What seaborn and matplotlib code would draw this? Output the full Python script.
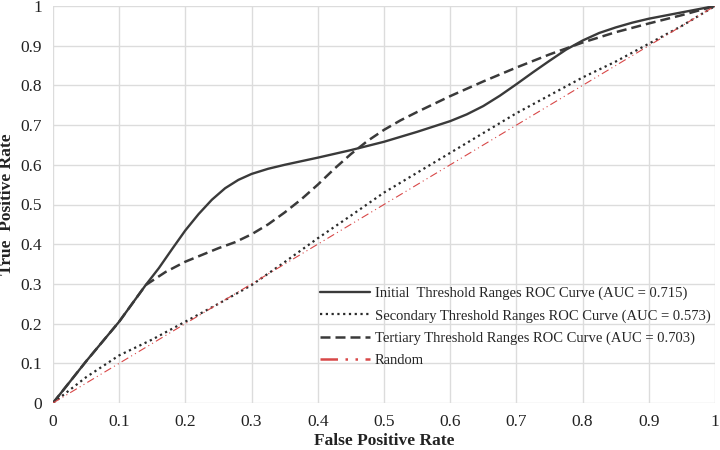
import matplotlib
matplotlib.use("Agg")
import matplotlib.pyplot as plt
import seaborn as sns
import pandas as pd
from matplotlib.ticker import FuncFormatter

fpr_initial = [0.0, 0.05, 0.1, 0.14, 0.16, 0.18, 0.2, 0.22, 0.24, 0.26, 0.28, 0.3,
               0.325, 0.35, 0.4, 0.45, 0.5, 0.55, 0.6, 0.625, 0.65, 0.675, 0.7,
               0.725, 0.75, 0.775, 0.8, 0.825, 0.85, 0.875, 0.9, 0.95, 1.0]
tpr_initial = [0.0, 0.105, 0.205, 0.297, 0.34, 0.388, 0.435, 0.476, 0.512, 0.541, 0.562, 0.577,
               0.590, 0.600, 0.618, 0.637, 0.658, 0.683, 0.710, 0.727, 0.748, 0.774, 0.803,
               0.833, 0.862, 0.89, 0.913, 0.932, 0.946, 0.958, 0.968, 0.984, 1.0]

fpr_secondary = [0.0, 0.05, 0.1, 0.15, 0.2, 0.25, 0.3, 0.35, 0.4, 0.45, 0.5,
                 0.55, 0.6, 0.65, 0.7, 0.75, 0.8, 0.85, 0.9, 0.95, 1.0]
tpr_secondary = [0.0, 0.065, 0.12, 0.16, 0.205, 0.25, 0.297, 0.355, 0.415, 0.472, 0.53,
                 0.58, 0.63, 0.68, 0.73, 0.775, 0.82, 0.86, 0.905, 0.95, 1.0]

fpr_tertiary = [0.0, 0.05, 0.1, 0.14, 0.17, 0.2, 0.25, 0.275, 0.3, 0.325, 0.35, 0.375,
                0.4, 0.425, 0.45, 0.475, 0.5, 0.525, 0.55, 0.6, 0.65, 0.7, 0.75,
                0.8, 0.85, 0.9, 0.95, 1.0]
tpr_tertiary = [0.0, 0.105, 0.205, 0.297, 0.33, 0.356, 0.39, 0.405, 0.425, 0.45, 0.48, 0.513,
                0.55, 0.59, 0.627, 0.66, 0.688, 0.712, 0.733, 0.773, 0.81, 0.845, 0.878,
                0.908, 0.934, 0.956, 0.977, 1.0]

random_x = [0.0, 1.0]
random_y = [0.0, 1.0]

labels = ["Initial  Threshold Ranges ROC Curve (AUC = 0.715)",
          "Secondary Threshold Ranges ROC Curve (AUC = 0.573)",
          "Tertiary Threshold Ranges ROC Curve (AUC = 0.703)",
          "Random"]
ticks = [0, 0.1, 0.2, 0.3, 0.4, 0.5, 0.6, 0.7, 0.8, 0.9, 1]

sns.set_style("white")
plt.rcParams["font.family"] = ["Liberation Serif", "DejaVu Serif"]

fig = plt.figure(figsize=(7.2, 4.5), dpi=100)
ax = fig.add_axes([53/720, 1-403/450, 662/720, 397/450])

df_i = pd.DataFrame({"x": fpr_initial, "y": tpr_initial})
df_s = pd.DataFrame({"x": fpr_secondary, "y": tpr_secondary})
df_t = pd.DataFrame({"x": fpr_tertiary, "y": tpr_tertiary})
df_r = pd.DataFrame({"x": random_x, "y": random_y})

sns.lineplot(data=df_i, x="x", y="y", ax=ax, color="#3a3a3a", lw=1.7,
             label=labels[0], sort=False)
sns.lineplot(data=df_s, x="x", y="y", ax=ax, color="#2a2a2a", lw=1.6,
             linestyle=(0, (1, 1.6)), label=labels[1], sort=False)
sns.lineplot(data=df_t, x="x", y="y", ax=ax, color="#3a3a3a", lw=1.8,
             linestyle=(0, (4, 2)), label=labels[2], sort=False)
sns.lineplot(data=df_r, x="x", y="y", ax=ax, color="#d84848", lw=0.8,
             linestyle=(0, (7, 3, 1, 3, 1, 3)), label=labels[3], sort=False)

ax.set_xlim(0, 1)
ax.set_ylim(0, 1)
ax.set_xticks(ticks)
ax.set_yticks(ticks)
fmt = FuncFormatter(lambda v, p: "%g" % round(v, 2))
ax.xaxis.set_major_formatter(fmt)
ax.yaxis.set_major_formatter(fmt)
ax.tick_params(axis="both", length=0, labelsize=12.5, colors="#222222", pad=8)
ax.grid(True, color="#dcdcdc", lw=1.0)
ax.set_axisbelow(True)
for s in ax.spines.values():
    s.set_visible(False)

ax.set_xlabel("False Positive Rate", fontsize=12.5, fontweight="bold", color="#222222", labelpad=2)
ax.set_ylabel("True  Positive Rate", fontsize=12.5, fontweight="bold", color="#222222", labelpad=4)

leg = ax.legend(loc="lower left", bbox_to_anchor=(0.395, 0.075), frameon=False,
                fontsize=10.5, handlelength=3.4, handletextpad=0.35, labelspacing=0.62,
                borderaxespad=0)
leg.get_lines()[3].set_linewidth(1.8)

fig.savefig("out.png", dpi=100)
